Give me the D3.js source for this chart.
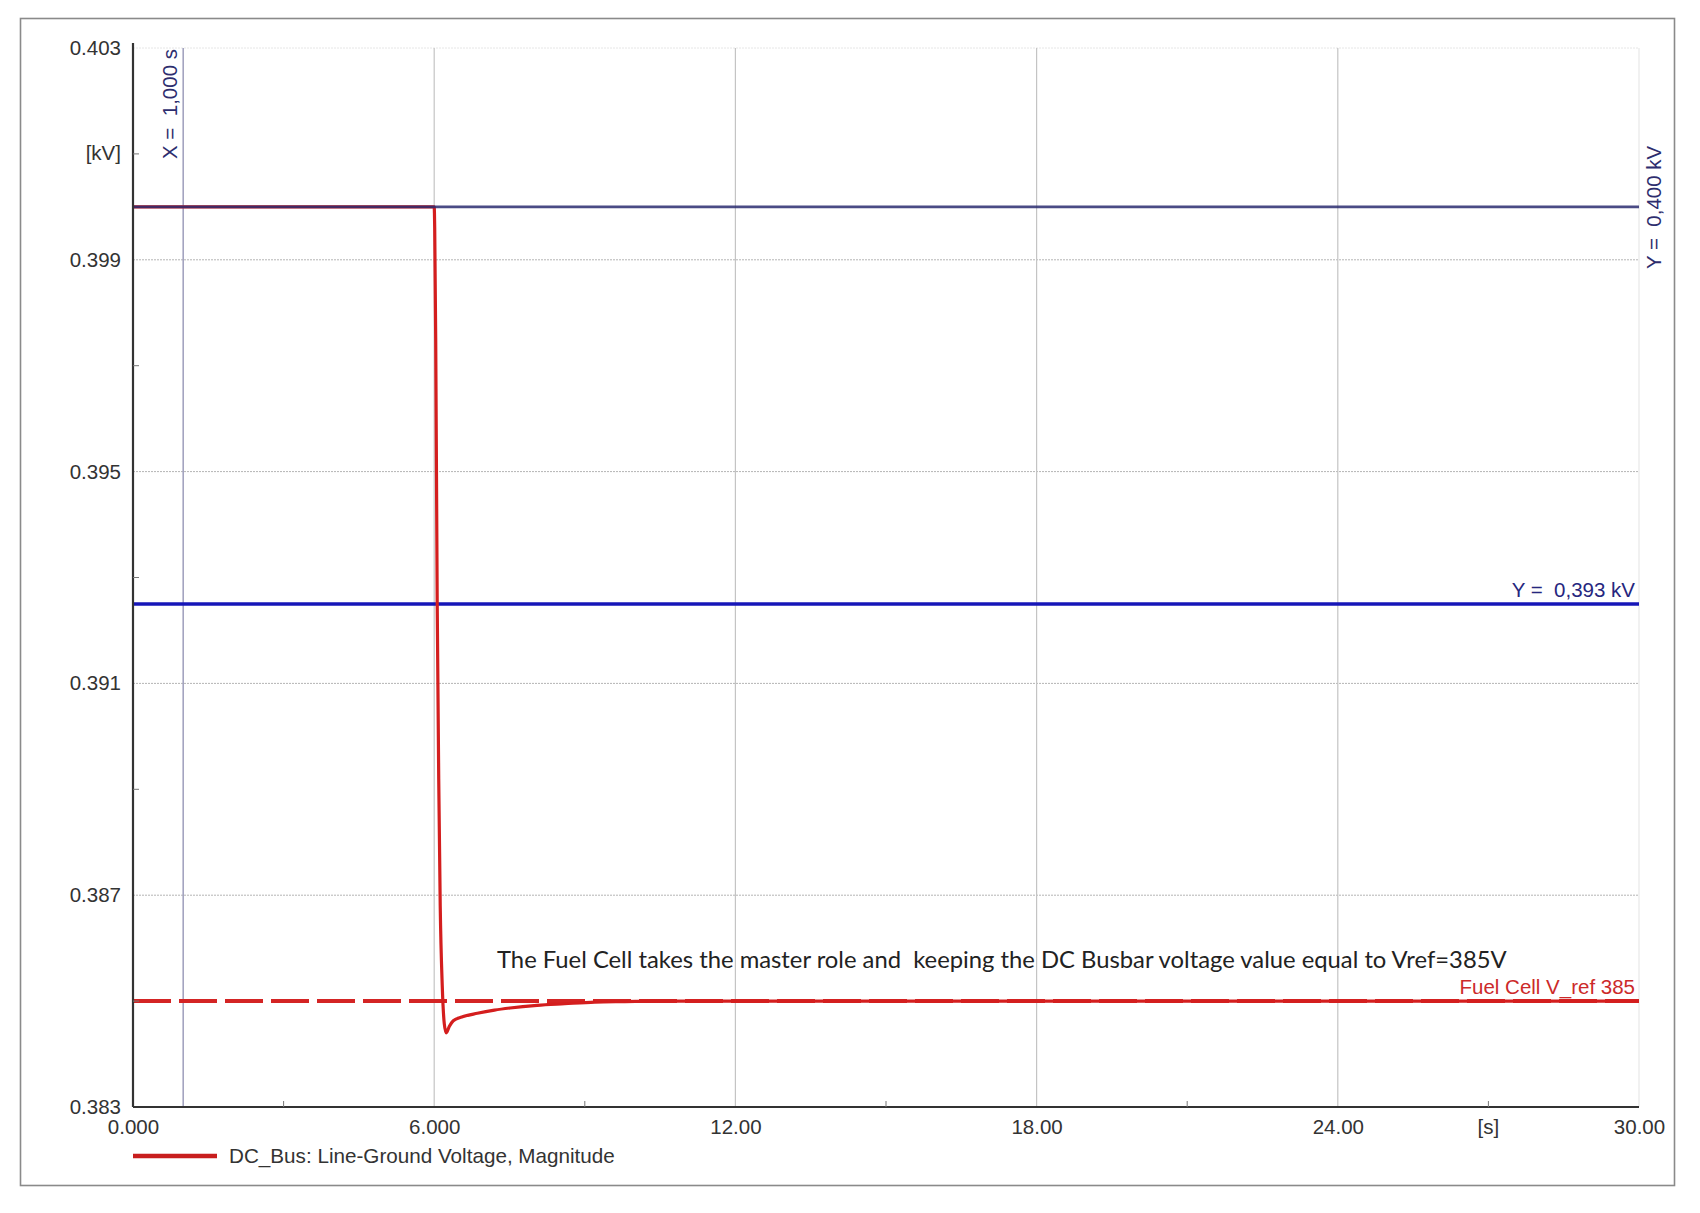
<!DOCTYPE html>
<html>
<head>
<meta charset="utf-8">
<script src="https://cdn.jsdelivr.net/npm/d3@7"></script>
<style>
  html, body { margin: 0; padding: 0; background: #fff; }
  svg { display: block; font-family: "Liberation Sans", Arial, sans-serif; }
</style>
</head>
<body>
<svg id="chart" width="1700" height="1213"></svg>
<script>
// ---- data ----
const yTicks = [0.383, 0.387, 0.391, 0.395, 0.399, 0.403];
const yTickLabels = ["0.383", "0.387", "0.391", "0.395", "0.399", "0.403"];
const yMinorTicks = [0.385, 0.389, 0.393, 0.397, 0.401];
const yUnit = "[kV]";
const yUnitAt = 0.401;

const xTicks = [0, 6, 12, 18, 24, 30];
const xTickLabels = ["0.000", "6.000", "12.00", "18.00", "24.00", "30.00"];
const xMinorTicks = [3, 9, 15, 21, 27];
const xUnit = "[s]";
const xUnitAt = 27;

// DC bus line-ground voltage magnitude [kV] vs time [s]
const busTime    = [0, 6.00, 6.01, 6.03, 6.06, 6.09, 6.12, 6.16, 6.20, 6.24, 6.30, 6.38, 6.55, 6.86, 7.20, 7.51, 8.05, 8.60, 9.20, 9.80, 10.5, 30.0];
const busVoltage = [0.4000, 0.4000, 0.3996, 0.3975, 0.3925, 0.3892, 0.3868, 0.3853, 0.38458, 0.38440, 0.38452, 0.38463, 0.38470, 0.38477, 0.38483, 0.38487, 0.38492, 0.38495, 0.38498, 0.38499, 0.38500, 0.38500];

const cursorX = 1.0;        const cursorXLabel = "X =  1,000 s";
const cursorY1 = 0.4000;    const cursorY1Label = "Y =  0,400 kV";
const cursorY2 = 0.3925;    const cursorY2Label = "Y =  0,393 kV";
const vref = 0.385;         const vrefLabel = "Fuel Cell V_ref 385";
const noteText = "The Fuel Cell takes the master role and  keeping the DC Busbar voltage value equal to Vref=385V";
const legendLabel = "DC_Bus: Line-Ground Voltage, Magnitude";

// ---- drawing ----
const svg = d3.select("#chart");
const x = d3.scaleLinear().domain([0, 30]).range([133, 1639]);
const y = d3.scaleLinear().domain([0.383, 0.403]).range([1107, 48]);
const FS = 20.5;

// outer frame
svg.append("rect").attr("x", 20.5).attr("y", 18.5).attr("width", 1654).attr("height", 1167)
  .attr("fill", "none").attr("stroke", "#8a8a8a").attr("stroke-width", 1.6);

// gridlines
svg.append("g").selectAll("line").data(yTicks.slice(1)).join("line")
  .attr("x1", x(0)).attr("x2", x(30))
  .attr("y1", d => y(d)).attr("y2", d => y(d))
  .attr("stroke", d => d === 0.403 ? "#e6e6e6" : "#b4b4b4")
  .attr("stroke-width", 1).attr("stroke-dasharray", "2,1");
svg.append("g").selectAll("line").data(xTicks.slice(1)).join("line")
  .attr("x1", d => x(d)).attr("x2", d => x(d))
  .attr("y1", y(0.403)).attr("y2", y(0.383))
  .attr("stroke", d => d === 30 ? "#e8e8e8" : "#c4c4c4").attr("stroke-width", 1.2);

// cursor X
svg.append("line").attr("x1", x(cursorX)).attr("x2", x(cursorX))
  .attr("y1", y(0.403)).attr("y2", y(0.383))
  .attr("stroke", "#a4a4c0").attr("stroke-width", 1.6);
svg.append("text").attr("transform", `translate(${x(cursorX) - 6},159) rotate(-90)`)
  .style("white-space", "pre")
  .attr("font-size", FS).attr("fill", "#2d2d6e").text(cursorXLabel);

// reference dashed line
svg.append("line").attr("x1", x(0)).attr("x2", x(30))
  .attr("y1", y(vref)).attr("y2", y(vref))
  .attr("stroke", "#d42424").attr("stroke-width", 4).attr("stroke-dasharray", "38,8");
svg.append("text").attr("x", 1635).attr("y", y(vref) - 7).attr("text-anchor", "end")
  .attr("font-size", FS).attr("fill", "#cc2a2a").text(vrefLabel);

// blue cursor Y2
svg.append("line").attr("x1", x(0)).attr("x2", x(30))
  .attr("y1", y(cursorY2)).attr("y2", y(cursorY2))
  .attr("stroke", "#1616b8").attr("stroke-width", 3.5);
svg.append("text").attr("x", 1635).attr("y", y(cursorY2) - 7).attr("text-anchor", "end")
  .style("white-space", "pre")
  .attr("font-size", FS).attr("fill", "#26267e").text(cursorY2Label);

// bus voltage curve
const pts = busTime.map((t, i) => [t, busVoltage[i]]);
svg.append("path").datum(pts)
  .attr("d", d3.line().x(d => x(d[0])).y(d => y(d[1])).curve(d3.curveMonotoneX))
  .attr("fill", "none").attr("stroke", "#d41e1e").attr("stroke-width", 3.2);

// navy cursor Y1 (overlaps red)
svg.append("line").attr("x1", x(0)).attr("x2", x(30))
  .attr("y1", y(cursorY1)).attr("y2", y(cursorY1))
  .attr("stroke", "#2a2c70").attr("stroke-width", 2.6).attr("stroke-opacity", 0.85);
svg.append("text").attr("transform", `translate(1661,269) rotate(-90)`)
  .style("white-space", "pre")
  .attr("font-size", FS).attr("fill", "#2d2d6e").text(cursorY1Label);

// axes
const axisColor = "#333";
svg.append("line").attr("x1", x(0)).attr("x2", x(0)).attr("y1", 43).attr("y2", y(0.383))
  .attr("stroke", axisColor).attr("stroke-width", 2.2);
svg.append("line").attr("x1", x(0)).attr("x2", x(30)).attr("y1", y(0.383)).attr("y2", y(0.383))
  .attr("stroke", axisColor).attr("stroke-width", 2.2);

const yAxis = d3.axisLeft(y).tickValues(yTicks).tickSize(0).tickPadding(12)
  .tickFormat((d, i) => yTickLabels[i]);
const gy = svg.append("g").attr("transform", `translate(${x(0)},0)`).call(yAxis);
gy.select(".domain").remove();
gy.attr("font-family", null).attr("font-size", null);
gy.selectAll("text").style("font-size", FS + "px").attr("fill", "#333")
  .style("font-family", "'Liberation Sans', Arial, sans-serif");

const xAxis = d3.axisBottom(x).tickValues(xTicks).tickSize(0).tickPadding(12)
  .tickFormat((d, i) => xTickLabels[i]);
const gx = svg.append("g").attr("transform", `translate(0,${y(0.383)})`).call(xAxis);
gx.select(".domain").remove();
gx.attr("font-family", null).attr("font-size", null);
gx.selectAll("text").style("font-size", FS + "px").attr("fill", "#333")
  .style("font-family", "'Liberation Sans', Arial, sans-serif");

// minor ticks
svg.append("g").selectAll("line").data(yMinorTicks).join("line")
  .attr("x1", x(0)).attr("x2", x(0) + 6).attr("y1", d => y(d)).attr("y2", d => y(d))
  .attr("stroke", "#777").attr("stroke-width", 1);
svg.append("g").selectAll("line").data(xMinorTicks).join("line")
  .attr("x1", d => x(d)).attr("x2", d => x(d)).attr("y1", y(0.383)).attr("y2", y(0.383) - 6)
  .attr("stroke", "#777").attr("stroke-width", 1);

// unit labels
svg.append("text").attr("x", x(0) - 12).attr("y", y(yUnitAt)).attr("dy", "0.32em")
  .attr("text-anchor", "end").attr("font-size", FS).attr("fill", "#333").text(yUnit);
svg.append("text").attr("x", x(xUnitAt)).attr("y", y(0.383) + 12).attr("dy", "0.71em")
  .attr("text-anchor", "middle").attr("font-size", FS).attr("fill", "#333").text(xUnit);

// annotation note
const note = svg.append("text").attr("x", 497).attr("y", 968)
  .style("white-space", "pre")
  .style("font-family", "Lato, 'Open Sans', sans-serif").attr("font-size", 22)
  .attr("fill", "#222").text(noteText);
const nw = note.node().getComputedTextLength();
note.attr("font-size", 22 * 1010 / nw);

// legend
svg.append("line").attr("x1", 133).attr("x2", 217).attr("y1", 1156).attr("y2", 1156)
  .attr("stroke", "#c81e1e").attr("stroke-width", 4.5);
const leg = svg.append("text").attr("x", 229).attr("y", 1156).attr("dy", "0.35em")
  .attr("font-size", FS).attr("fill", "#333").text(legendLabel);
const lw = leg.node().getComputedTextLength();
leg.attr("font-size", FS * 386 / lw);
</script>
</body>
</html>
